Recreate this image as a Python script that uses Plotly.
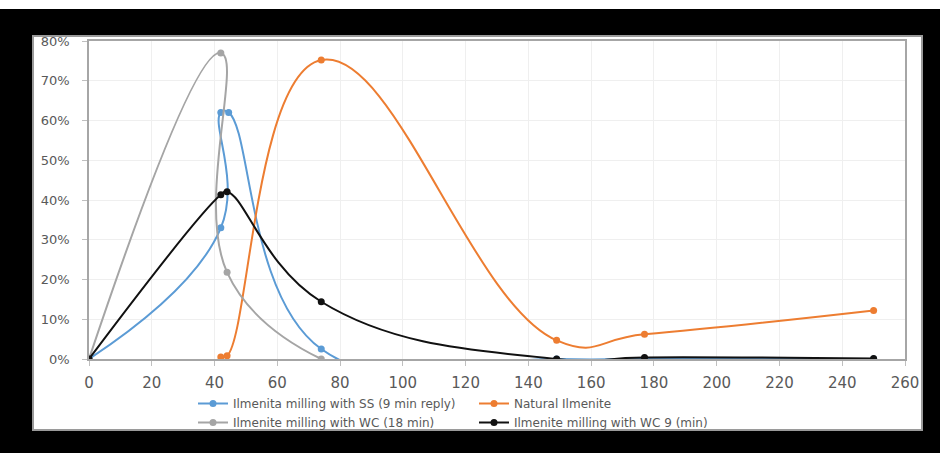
import plotly.graph_objects as go

# ---- data ----
blue_name = "Ilmenita milling with SS (9 min reply)"
blue_x = [0, 42, 42, 44.5, 74, 149, 177, 250]
blue_y = [0.0, 0.33, 0.62, 0.62, 0.025, 0.0, 0.0, 0.0]

orange_name = "Natural Ilmenite"
orange_x = [42, 44, 74, 149, 177, 250]
orange_y = [0.005, 0.008, 0.752, 0.047, 0.062, 0.122]

gray_name = "Ilmenite milling with WC (18 min)"
gray_x = [0, 42, 44, 74]
gray_y = [0.0, 0.77, 0.218, 0.0]

black_name = "Ilmenite milling with WC 9 (min)"
black_x = [0, 42, 44, 74, 149, 177, 250]
black_y = [0.0, 0.413, 0.421, 0.144, 0.0, 0.004, 0.001]

x_ticks = [0, 20, 40, 60, 80, 100, 120, 140, 160, 180, 200, 220, 240, 260]
y_ticks = [0, 0.1, 0.2, 0.3, 0.4, 0.5, 0.6, 0.7, 0.8]

W, H = 940, 453
L, R, T, B = 89, 35, 41, 94
PW, PH = W - L - R, H - T - B


def px_x(p):
    return (p - L) / PW


def px_y(p):
    return (H - B - p) / PH


series = [
    (blue_name, blue_x, blue_y, "#5B9BD5"),
    (orange_name, orange_x, orange_y, "#ED7D31"),
    (gray_name, gray_x, gray_y, "#A5A5A5"),
    (black_name, black_x, black_y, "#111111"),
]

fig = go.Figure()
for name, xs, ys, col in series:
    fig.add_trace(go.Scatter(
        x=xs, y=ys, name=name, mode="lines+markers",
        line=dict(color=col, width=2, shape="spline", smoothing=1.3),
        marker=dict(color=col, size=7, symbol="circle"),
    ))

font_main = "DejaVu Sans"
fig.update_layout(
    width=W, height=H,
    margin=dict(l=L, r=R, t=T, b=B),
    paper_bgcolor="#FFFFFF",
    plot_bgcolor="#FFFFFF",
    showlegend=True,
    legend=dict(
        orientation="h", x=px_x(193), xanchor="left", y=px_y(389), yanchor="top",
        font=dict(family=font_main, size=12, color="#595959"),
        bgcolor="rgba(0,0,0,0)", itemwidth=30, entrywidth=236, tracegroupgap=0,
    ),
    shapes=[
        dict(type="rect", xref="paper", yref="paper", layer="below",
             x0=px_x(0), x1=px_x(940), y0=px_y(453), y1=px_y(9),
             fillcolor="#000000", line=dict(width=0)),
        dict(type="rect", xref="paper", yref="paper", layer="below",
             x0=px_x(33), x1=px_x(922), y0=px_y(430), y1=px_y(36),
             fillcolor="#FFFFFF", line=dict(color="#9a9a9a", width=2)),
    ],
)
fig.update_xaxes(
    range=[0, 260], tickvals=x_ticks, ticktext=[str(v) for v in x_ticks],
    showline=True, linecolor="#a6a6a6", linewidth=1.5, mirror=True,
    showgrid=True, gridcolor="#efefef", gridwidth=1, zeroline=False,
    ticks="outside", ticklen=5, tickcolor="#bfbfbf",
    tickfont=dict(family=font_main, size=15, color="#595959"),
    ticklabelstandoff=4,
)
fig.update_yaxes(
    range=[0, 0.8], tickvals=y_ticks, tickformat=".0%",
    showline=True, linecolor="#a6a6a6", linewidth=1.5, mirror=True,
    showgrid=True, gridcolor="#efefef", gridwidth=1, zeroline=False,
    ticks="outside", ticklen=5, tickcolor="#bfbfbf",
    tickfont=dict(family=font_main, size=13, color="#595959"),
    ticklabelstandoff=10,
)
fig.write_html(
    "out.html",
    config={"displayModeBar": False},
    post_script="document.body.style.margin='0';document.body.style.overflow='hidden';",
)
